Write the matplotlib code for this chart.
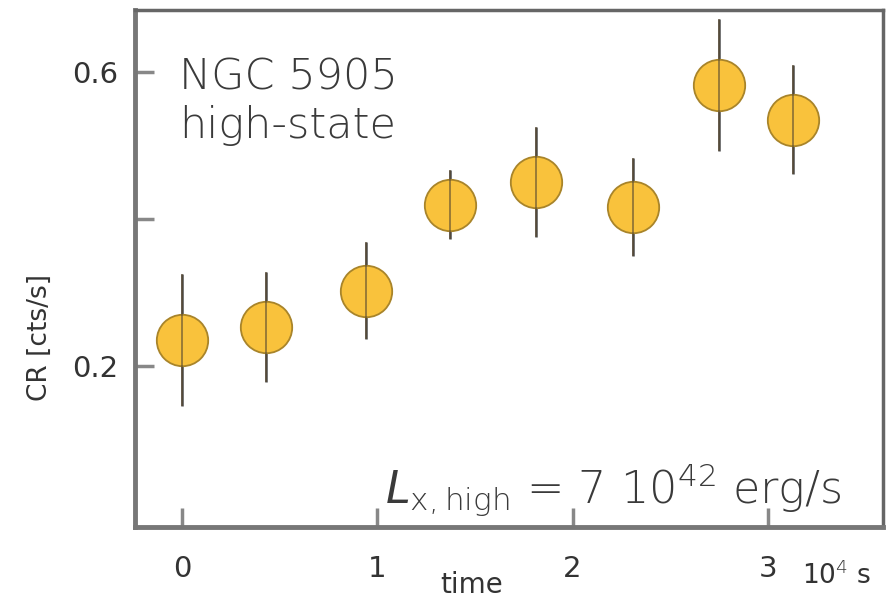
import matplotlib
matplotlib.use('Agg')
import matplotlib.pyplot as plt

plt.rcParams['font.family'] = ['DejaVu Sans']
plt.rcParams['mathtext.fontset'] = 'custom'
plt.rcParams['mathtext.rm'] = 'DejaVu Sans:light'
plt.rcParams['mathtext.it'] = 'DejaVu Sans:italic:light'

# time in units of 10^4 s, count rate in cts/s
t = [0.0, 0.43, 0.94, 1.37, 1.815, 2.31, 2.75, 3.13]
cr = [0.235, 0.253, 0.302, 0.419, 0.450, 0.416, 0.582, 0.535]
err = [0.09, 0.075, 0.066, 0.047, 0.075, 0.067, 0.09, 0.074]

xticks = [0, 1, 2, 3]
xlabels = ['0', '1', '2', '3']
yticks = [0.2, 0.4, 0.6]
ylabels = ['0.2', '', '0.6']

fig = plt.figure(figsize=(8.9, 6.03), dpi=100)
ax = fig.add_axes([0.152, 0.126, 0.840, 0.857])

ax.errorbar(t, cr, yerr=err, fmt='none', ecolor='#4a4a4a', elinewidth=1.8, zorder=2)
ax.plot(t, cr, 'o', ms=37, mfc='#f9c23c', mec='#a8842a', mew=1.3, zorder=3)
ax.errorbar(t, cr, yerr=err, fmt='none', ecolor='#5a4a30', elinewidth=1.4, alpha=0.6, zorder=4)

ax.set_xlim(-0.24, 3.59)
ax.set_ylim(-0.02, 0.684)
ax.set_xticks(xticks)
ax.set_xticklabels(xlabels)
ax.set_yticks(yticks)
ax.set_yticklabels(ylabels)
ax.tick_params(direction='in', length=14, width=2.5, color='#888888', labelsize=21, labelcolor='#333333')
ax.tick_params(axis='x', pad=20)
ax.tick_params(axis='y', pad=12)

for s in ['left', 'bottom']:
    ax.spines[s].set_linewidth(3.5)
    ax.spines[s].set_color('#777777')
for s in ['top', 'right']:
    ax.spines[s].set_linewidth(2.5)
    ax.spines[s].set_color('#666666')

ax.text(0.058, 0.91, 'NGC 5905\nhigh-state', transform=ax.transAxes, ha='left', va='top',
        fontsize=31, fontweight='light', color='#3a3a3a', linespacing=1.22)
ax.text(0.945, 0.045, r'$L_{\mathrm{x,high}}$ = 7 10$^{42}$ erg/s', transform=ax.transAxes,
        ha='right', va='baseline', fontsize=32, fontweight='light', color='#3a3a3a')

fig.text(0.045, 0.44, 'CR [cts/s]', rotation=90, ha='center', va='center', fontsize=19, color='#333333')
fig.text(0.53, 0.03, 'time', ha='center', va='center', fontsize=20, color='#333333')
fig.text(0.94, 0.046, r'10$^{4}$ s', ha='center', va='center', fontsize=19, color='#333333')

fig.savefig('out.png', dpi=100)
